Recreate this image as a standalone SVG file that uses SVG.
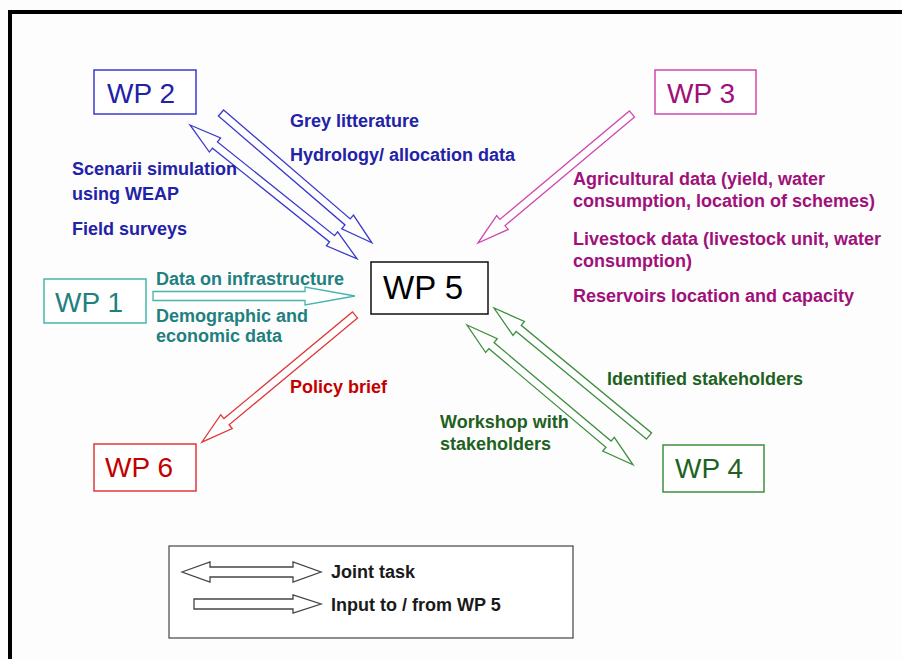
<svg xmlns="http://www.w3.org/2000/svg" width="902" height="659" viewBox="0 0 902 659">
<style>
  text { font-family: "Liberation Sans", Arial, sans-serif; }
  .wp { font-size: 28px; }
  .lbl { font-size: 18px; font-weight: bold; }
  .box { fill: #ffffff; stroke-width: 1.5; }
  .arr { fill: #ffffff; stroke-width: 1.3; stroke-linejoin: miter; }
  .blue { fill: #2222a8; } .blueS { stroke: #3a3acc; }
  .mag { fill: #a0107a; } .magS { stroke: #d048b0; }
  .teal { fill: #1f8080; } .tealS { stroke: #45b5ad; }
  .red { fill: #c40000; } .redS { stroke: #e03838; }
  .green { fill: #1f621f; } .greenS { stroke: #3f8f3f; }
</style>
<rect x="0" y="0" width="902" height="659" fill="#fdfdfd"/>
<rect x="10" y="12" width="900" height="660" fill="none" stroke="#000" stroke-width="4"/>

<g id="connectors">
  <!-- WP2 -> WP5 single -->
  <polygon class="arr blueS" transform="translate(221,113) rotate(40.7)" points="0,-4 167,-4 167,-9 199,0 167,9 167,4 0,4"/>
  <!-- WP2 <-> WP5 double -->
  <polygon class="arr blueS" transform="translate(190,125) rotate(38.7)" points="0,0 32,-9 32,-4 182,-4 182,-9 214,0 182,9 182,4 32,4 32,9"/>
  <!-- WP3 -> WP5 -->
  <polygon class="arr magS" transform="translate(632,114) rotate(140.05)" points="0,-4 169,-4 169,-9 201,0 169,9 169,4 0,4"/>
  <!-- WP1 -> WP5 -->
  <polygon class="arr tealS" transform="translate(153,296)" points="0,-4.5 152,-4.5 152,-9 202,0 152,9 152,4.5 0,4.5"/>
  <!-- WP5 -> WP6 -->
  <polygon class="arr redS" transform="translate(355,315) rotate(140.3)" points="0,-4 167,-4 167,-9 199,0 167,9 167,4 0,4"/>
  <!-- WP4 -> WP5 single -->
  <polygon class="arr greenS" transform="translate(649,436) rotate(-140.45)" points="0,-4 169,-4 169,-9 201,0 169,9 169,4 0,4"/>
  <!-- WP5 <-> WP4 double -->
  <polygon class="arr greenS" transform="translate(467,325) rotate(40.1)" points="0,0 32,-9 32,-4 185,-4 185,-9 217,0 185,9 185,4 32,4 32,9"/>
</g>

<g id="wp2">
  <rect class="box blueS" x="94" y="70" width="102" height="44"/>
  <text class="wp blue" x="107" y="103">WP 2</text>
  <text class="lbl blue" x="290" y="127">Grey litterature</text>
  <text class="lbl blue" x="290" y="161">Hydrology/ allocation data</text>
  <text class="lbl blue" x="72" y="175">Scenarii simulation</text>
  <text class="lbl blue" x="72" y="200">using WEAP</text>
  <text class="lbl blue" x="72" y="235">Field surveys</text>
</g>

<g id="wp3">
  <rect class="box magS" x="655" y="70" width="101" height="44"/>
  <text class="wp mag" x="667" y="103">WP 3</text>
  <text class="lbl mag" x="573" y="185">Agricultural data (yield, water</text>
  <text class="lbl mag" x="573" y="207">consumption, location of schemes)</text>
  <text class="lbl mag" x="573" y="245">Livestock data (livestock unit, water</text>
  <text class="lbl mag" x="573" y="267">consumption)</text>
  <text class="lbl mag" x="573" y="302">Reservoirs location and capacity</text>
</g>

<g id="wp1">
  <rect class="box tealS" x="44" y="279" width="102" height="44"/>
  <text class="wp teal" x="55" y="312">WP 1</text>
  <text class="lbl teal" x="156" y="285">Data on infrastructure</text>
  <text class="lbl teal" x="156" y="322">Demographic and</text>
  <text class="lbl teal" x="156" y="342">economic data</text>
</g>

<g id="wp5">
  <rect class="box" stroke="#111" stroke-width="2" x="371" y="262" width="117" height="52"/>
  <text x="383" y="299" font-size="33" fill="#000">WP 5</text>
</g>

<g id="wp6">
  <rect class="box redS" x="94" y="444" width="102" height="47"/>
  <text class="wp red" x="105" y="477">WP 6</text>
  <text class="lbl red" x="290" y="393">Policy brief</text>
</g>

<g id="wp4">
  <rect class="box greenS" x="663" y="445" width="101" height="47"/>
  <text class="wp green" x="675" y="478">WP 4</text>
  <text class="lbl green" x="607" y="385">Identified stakeholders</text>
  <text class="lbl green" x="440" y="428">Workshop with</text>
  <text class="lbl green" x="440" y="450">stakeholders</text>
</g>

<g id="legend">
  <rect x="169" y="546" width="404" height="92" fill="#fff" stroke="#444" stroke-width="1.2"/>
  <polygon class="arr" stroke="#444" points="182,572 210,562 210,567 293,567 293,562 321,572 293,582 293,577 210,577 210,582"/>
  <polygon class="arr" stroke="#444" points="194,599 293,599 293,595 321,604 293,613 293,609 194,609"/>
  <text class="lbl" fill="#1a1a1a" x="331" y="578">Joint task</text>
  <text class="lbl" fill="#1a1a1a" x="331" y="611">Input to / from WP 5</text>
</g>
</svg>
